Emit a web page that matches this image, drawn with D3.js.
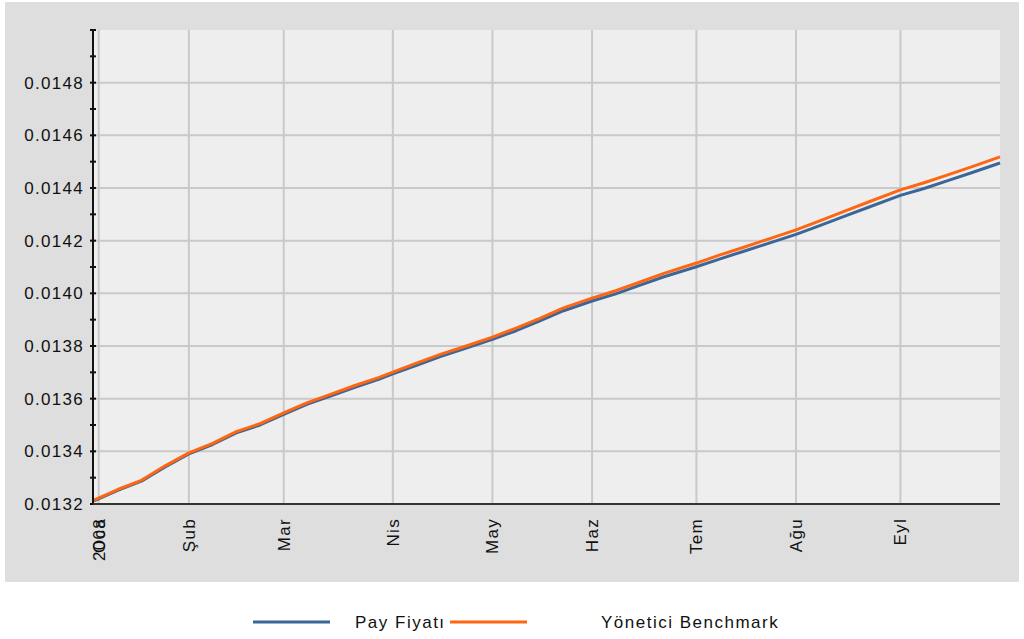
<!DOCTYPE html>
<html><head><meta charset="utf-8">
<script src="https://cdn.jsdelivr.net/npm/d3@7"></script>
<style>body{margin:0;background:#fff}svg{display:block}text{font-family:"Liberation Sans",Arial,sans-serif}</style>
</head><body>
<svg id="c" width="1024" height="639"></svg>
<script>
// trading-day index of each sample (0 = last day of previous year)
const dayIdx = [0,5,10,15,20,25,30,35,40,45,50,55,60,63,68,73,78,84,89,94,99,105,110,115,120,127,132,137,142,148,153,158,163,170,175,180,185,191];
const benchmark = [0.013215,0.013255,0.013290,0.013345,0.013394,0.013430,0.013475,0.013505,0.013546,0.013585,0.013617,0.013650,0.013680,0.013701,0.013735,0.013768,0.013797,0.013834,0.013868,0.013905,0.013945,0.013982,0.014010,0.014042,0.014075,0.014115,0.014146,0.014175,0.014205,0.014241,0.014275,0.014310,0.014345,0.014393,0.014420,0.014450,0.014480,0.014518];
const price = [0.013212,0.013252,0.013287,0.013341,0.013390,0.013426,0.013470,0.013500,0.013540,0.013579,0.013611,0.013643,0.013673,0.013694,0.013727,0.013760,0.013789,0.013825,0.013858,0.013895,0.013934,0.013971,0.013998,0.014030,0.014062,0.014101,0.014131,0.014160,0.014189,0.014224,0.014257,0.014291,0.014325,0.014372,0.014398,0.014428,0.014458,0.014495];
const monthLabels = ["Oca","Şub","Mar","Nis","May","Haz","Tem","Ağu","Eyl"];
const monthIdx = [1,20,40,63,84,105,127,148,170];
const yearLabel = "2008";
const yTicks = [0.0132,0.0134,0.0136,0.0138,0.0140,0.0142,0.0144,0.0146,0.0148];
const yMinor = [0.0133,0.0135,0.0137,0.0139,0.0141,0.0143,0.0145,0.0147,0.0149];
const seriesNames = ["Pay Fiyatı","Yönetici Benchmark"];
const seriesColors = ["#3a6699","#ff6611"];

const svg = d3.select("#c");
const L = 93, R = 1000, T = 30, B = 504;
svg.append("rect").attr("x",5).attr("y",2).attr("width",1014).attr("height",580).attr("fill","#dedede");
svg.append("rect").attr("x",L).attr("y",T).attr("width",R-L).attr("height",B-T).attr("fill","#eeeeee");

const x = d3.scaleLinear().domain([0,191]).range([94,1000]);
const y = d3.scaleLinear().domain([0.0132,0.0150]).range([B,T]);

const g = svg.append("g");
g.selectAll(".hg").data(yTicks.slice(1)).join("line")
  .attr("x1",L).attr("x2",R).attr("y1",d=>y(d)).attr("y2",d=>y(d))
  .attr("stroke","#c9c9c9").attr("stroke-width",2);
g.selectAll(".vg").data(monthIdx).join("line")
  .attr("y1",T).attr("y2",B).attr("x1",d=>x(d)).attr("x2",d=>x(d))
  .attr("stroke","#c9c9c9").attr("stroke-width",2);

const line = v => d3.line().x((d,i)=>x(dayIdx[i])).y(d=>y(d))(v);
[price, benchmark].forEach((s,k)=>{
  svg.append("path").attr("d",line(s)).attr("fill","none")
    .attr("stroke",seriesColors[k]).attr("stroke-width",3).attr("stroke-linejoin","round");
});

const FS = 17, LS = 1.3;
// y axis
const yAxis = svg.append("g");
yAxis.append("line").attr("x1",L).attr("x2",L).attr("y1",T).attr("y2",B).attr("stroke","#111").attr("stroke-width",2);
yAxis.append("line").attr("x1",L-3).attr("x2",L+3).attr("y1",T).attr("y2",T).attr("stroke","#111").attr("stroke-width",2);
yAxis.selectAll(".mt").data(yTicks.concat(yMinor)).join("line")
  .attr("x1",L-3).attr("x2",L+3).attr("y1",d=>y(d)).attr("y2",d=>y(d)).attr("stroke","#111").attr("stroke-width",2);
yAxis.selectAll(".yl").data(yTicks).join("text")
  .attr("x",84).attr("y",d=>y(d)+6).attr("text-anchor","end").attr("font-size",FS).attr("letter-spacing",LS).attr("fill","#111")
  .text(d=>d3.format(".4f")(d));

// x axis
svg.append("line").attr("x1",L).attr("x2",R).attr("y1",B).attr("y2",B).attr("stroke","#333").attr("stroke-width",2);
svg.selectAll(".xl").data(monthIdx).join("text")
  .attr("transform",d=>`translate(${x(d)+6},518) rotate(-90)`).attr("text-anchor","end")
  .attr("font-size",FS).attr("letter-spacing",LS).attr("fill","#111").text((d,i)=>monthLabels[i]);
svg.append("text").attr("transform",`translate(${x(monthIdx[0])+6},518) rotate(-90)`).attr("text-anchor","end")
  .attr("font-size",FS).attr("letter-spacing",LS).attr("fill","#111").text(yearLabel);

// legend
const lg = svg.append("g");
const lx = [253,450], tx = [355,601];
seriesNames.forEach((n,k)=>{
  lg.append("line").attr("x1",lx[k]).attr("x2",lx[k]+77).attr("y1",622).attr("y2",622).attr("stroke",seriesColors[k]).attr("stroke-width",3);
  lg.append("text").attr("x",tx[k]).attr("y",628).attr("font-size",FS).attr("letter-spacing",1.5).attr("fill","#111").text(n);
});
</script>
</body></html>
